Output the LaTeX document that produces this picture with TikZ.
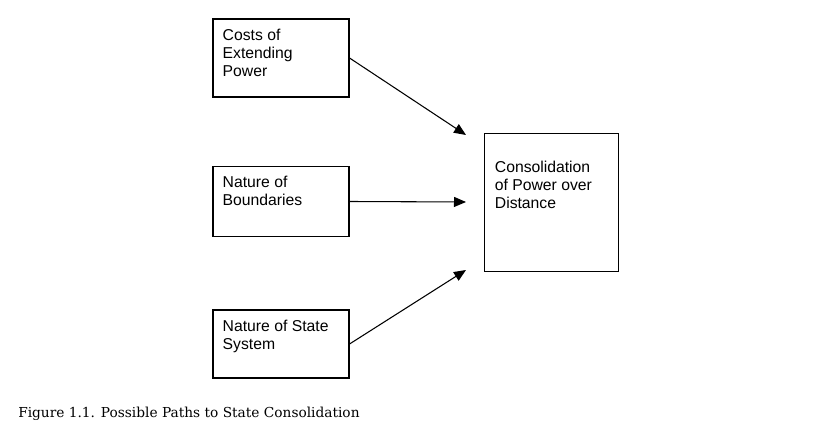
\documentclass[tikz,border=0pt]{standalone}
\usepackage{fontspec}
\setmainfont{DejaVu Serif}
\setsansfont{Liberation Sans}
\usetikzlibrary{arrows.meta}
\begin{document}
\begin{tikzpicture}[x=0.75pt,y=-0.75pt,
  box/.style={draw, line width=0.8pt, rectangle, inner sep=0pt, minimum width=102pt, minimum height=#1},
  txt/.style={font=\sffamily\fontsize{11.8}{13.5}\selectfont, align=left, inner sep=0pt, anchor=north west},
  conn/.style={line width=0.8pt, -{Triangle[length=9pt,width=7.5pt]}}]
\useasboundingbox (0,0) rectangle (825,441);
\node[box=58.5pt] (b1) at (281,58) {};
\node[box=52pt] (b2) at (281,201.5) {};
\node[box=51pt] (b3) at (281,344) {};
\node[box=103pt, minimum width=101pt] (c) at (551.5,202.5) {};
\node[txt] (t1) at ([shift={(10,10)}]b1.north west) {Costs of\\Extending\\Power};
\node[txt] (t2) at ([shift={(10,10)}]b2.north west) {Nature of\\Boundaries};
\node[txt] (t3) at ([shift={(10,10)}]b3.north west) {Nature of State\\System};
\node[txt] (tc) at ([shift={(11,28)}]c.north west) {Consolidation\\of Power over\\Distance};
\coordinate (e1) at (466,135);
\coordinate (e2) at (466,202);
\coordinate (e3) at (466,270);
\draw[conn] (b1.east) -- (e1);
\draw[conn] (b2.east) -- (e2);
\draw[conn] (b3.east) -- (e3);
\node[anchor=base west, inner sep=0pt, font=\fontsize{10.3}{13}\selectfont] (cap) at (18,418) {Figure 1.1. Possible Paths to State Consolidation};
\end{tikzpicture}
\end{document}
